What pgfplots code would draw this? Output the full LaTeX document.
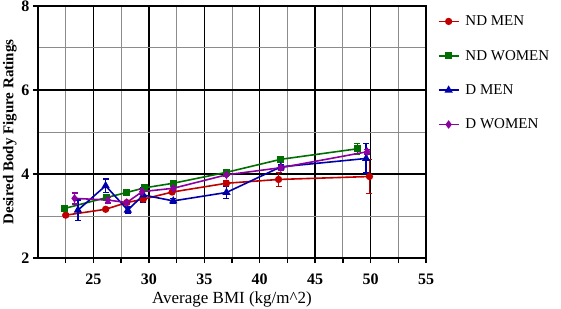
\documentclass[border=0pt]{standalone}
\usepackage{pgfplots}
\pgfplotsset{compat=1.18}
\usepackage{fontspec}
\setmainfont{Liberation Serif}
\definecolor{cRed}{RGB}{192,0,0}
\definecolor{cGreen}{RGB}{0,110,0}
\definecolor{cBlue}{RGB}{0,0,170}
\definecolor{cPurple}{RGB}{140,0,160}
\begin{document}
\begin{tikzpicture}[x=1pt,y=1pt]
\path[use as bounding box] (0,0) rectangle (561,308);
\begin{axis}[
  at={(38pt,50pt)}, anchor=south west,
  scale only axis, width=388pt, height=252pt,
  xmin=20, xmax=55, ymin=2, ymax=8,
  xtick={25,30,...,55}, ytick={2,4,6,8},
  minor xtick={22.5,27.5,...,52.5}, minor ytick={3,5,7},
  grid=both,
  major grid style={black, line width=1.3pt},
  minor grid style={gray!90, line width=1pt},
  axis line style={black, line width=1.6pt},
  tick align=outside, major tick length=5pt, minor tick length=5pt,
  tick style={black, line width=1.3pt},
  minor y tick style={draw=none},
  xtick pos=bottom, ytick pos=left,
  ticklabel style={font=\fontsize{16}{18}\selectfont\bfseries},
  xticklabel style={yshift=-7pt},
  /pgf/number format/assume math mode=true,
  xlabel={Average BMI (kg/m\^{}2)},
  ylabel={\bfseries Desired Body Figure Ratings},
  xlabel style={font=\fontsize{17}{19}\selectfont, yshift=-1pt},
  ylabel style={font=\fontsize{15}{17}\selectfont, yshift=-2pt},
  legend cell align=left,
  legend style={draw=none, fill=none, at={(1.03,0.97)}, anchor=north west,
    font=\fontsize{15}{17}\selectfont, row sep=19pt, inner sep=0pt,
    nodes={inner xsep=6pt}},
  legend image code/.code={\draw[#1,mark repeat=2,mark phase=2] plot coordinates {(0pt,0pt) (10pt,0pt) (20pt,0pt)};},
  every axis plot/.append style={line width=1.6pt},
  error bars/y dir=both, error bars/y explicit,
  error bars/error mark options={rotate=90, mark size=3pt, line width=1.4pt},
  error bars/error bar style={line width=1.4pt},
]
\addplot[cRed, mark=*, mark size=2.8pt, mark options={solid}] coordinates {
(22.5,3.02) +- (0,0.03) (26.1,3.16) +- (0,0.03) (28.0,3.32) +- (0,0.03) (29.5,3.40) +- (0,0.04)
(32.1,3.57) +- (0,0.03) (37.0,3.78) +- (0,0.05) (41.7,3.87) +- (0,0.17) (49.9,3.94) +- (0,0.41)};
\addlegendentry{ND MEN}
\addplot[cGreen, mark=square*, mark size=2.8pt] coordinates {
(22.4,3.18) +- (0,0.03) (26.2,3.44) +- (0,0.04) (28.0,3.56) +- (0,0.03) (29.6,3.67) +- (0,0.04)
(32.2,3.78) +- (0,0.03) (37.0,4.04) +- (0,0.04) (41.9,4.35) +- (0,0.06) (48.8,4.60) +- (0,0.12)};
\addlegendentry{ND WOMEN}
\addplot[cBlue, mark=triangle*, mark size=3.2pt] coordinates {
(23.6,3.14) +- (0,0.24) (26.1,3.72) +- (0,0.16) (28.1,3.14) +- (0,0.07) (29.5,3.50) +- (0,0.17)
(32.2,3.36) +- (0,0.05) (37.0,3.56) +- (0,0.14) (41.9,4.17) +- (0,0.05) (49.6,4.37) +- (0,0.35)};
\addlegendentry{D MEN}
\addplot[cPurple, mark=diamond*, mark size=3pt] coordinates {
(23.3,3.42) +- (0,0.13) (26.3,3.38) +- (0,0.07) (28.0,3.32) +- (0,0.04) (29.4,3.58) +- (0,0.06)
(32.2,3.66) +- (0,0.04) (37.0,3.98) +- (0,0.04) (41.9,4.15) +- (0,0.05) (49.7,4.53) +- (0,0.05)};
\addlegendentry{D WOMEN}
\end{axis}
\end{tikzpicture}
\end{document}
